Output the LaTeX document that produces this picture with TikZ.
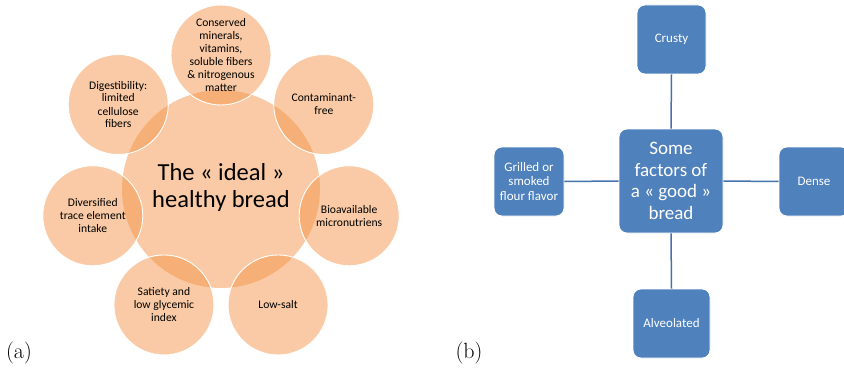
\documentclass[tikz,border=0pt]{standalone}
\usepackage{fontspec}
\newfontfamily\calib{Carlito}
\usetikzlibrary{calc}
\definecolor{peach}{RGB}{243,150,75}
\definecolor{boxblue}{RGB}{79,129,189}
\definecolor{lineblue}{RGB}{70,114,170}
\tikzset{
  bigc/.style={circle, fill=peach, fill opacity=0.5, text opacity=1, minimum size=198pt, inner sep=0pt},
  smallc/.style={circle, fill=peach, fill opacity=0.5, draw=white, draw opacity=1, line width=0.9pt, text opacity=1, minimum size=100pt, inner sep=0pt, align=center, font=\calib\fontsize{11.6}{13}\selectfont},
  sbox/.style={rounded corners=8pt, fill=boxblue, draw=white, line width=0.8pt, text=white, align=center, inner sep=0pt, font=\calib\fontsize{13}{14.3}\selectfont},
  conn/.style={draw=lineblue, line width=1.5pt},
  lab/.style={font=\fontsize{22}{26}\selectfont, inner sep=0pt}
}
\begin{document}
\begin{tikzpicture}[x=1pt,y=-1pt]
\useasboundingbox (0,0) rectangle (844,369);
\clip (0,0) rectangle (844,369);
% (a)
\node[bigc] (big) at (221,189) {};
\coordinate (hc) at (221,186.5);
\node[smallc] (s0) at ($(hc)+(-90:131.5)$) {Conserved\\minerals,\\vitamins,\\soluble fibers\\\& nitrogenous\\matter};
\node[smallc] (s1) at ($(hc)+(-90+360/7:131.5)$) {Contaminant-\\free};
\node[smallc] (s2) at ($(hc)+(-90+2*360/7:131.5)$) {Bioavailable\\micronutriens};
\node[smallc] (s3) at ($(hc)+(-90+3*360/7:131.5)$) {Low-salt};
\node[smallc] (s4) at ($(hc)+(-90+4*360/7:131.5)$) {Satiety and\\low glycemic\\index};
\node[smallc] (s5) at ($(hc)+(-90+5*360/7:131.5)$) {Diversified\\trace element\\intake};
\node[smallc] (s6) at ($(hc)+(-90+6*360/7:131.5)$) {Digestibility:\\limited\\cellulose\\fibers};
\node[align=center, font=\calib\fontsize{24.5}{27}\selectfont, inner sep=0pt] (bigt) at (221,187) {The « ideal »\\healthy bread};
\node[lab] (la) at (19,353) {(a)};
% (b)
\node[sbox, minimum width=104pt, minimum height=104pt, font=\calib\fontsize{19}{21.7}\selectfont] (c) at (671,181) {Some\\factors of\\a « good »\\bread};
\node[sbox, minimum width=69pt, minimum height=69pt] (up) at (671.5,39.5) {Crusty};
\node[sbox, minimum width=70pt, minimum height=69pt] (le) at (529,181.5) {Grilled or\\smoked\\flour flavor};
\node[sbox, minimum width=70pt, minimum height=69pt] (ri) at (814,181.5) {Dense};
\node[sbox, minimum width=77pt, minimum height=69pt] (dn) at (671.5,323.5) {Alveolated};
\draw[conn] (up.south) -- (c.north);
\draw[conn] (c.south) -- (dn.north);
\draw[conn] (le.east) -- (c.west);
\draw[conn] (c.east) -- (ri.west);
\node[lab] (lb) at (469,353) {(b)};
\end{tikzpicture}
\end{document}
